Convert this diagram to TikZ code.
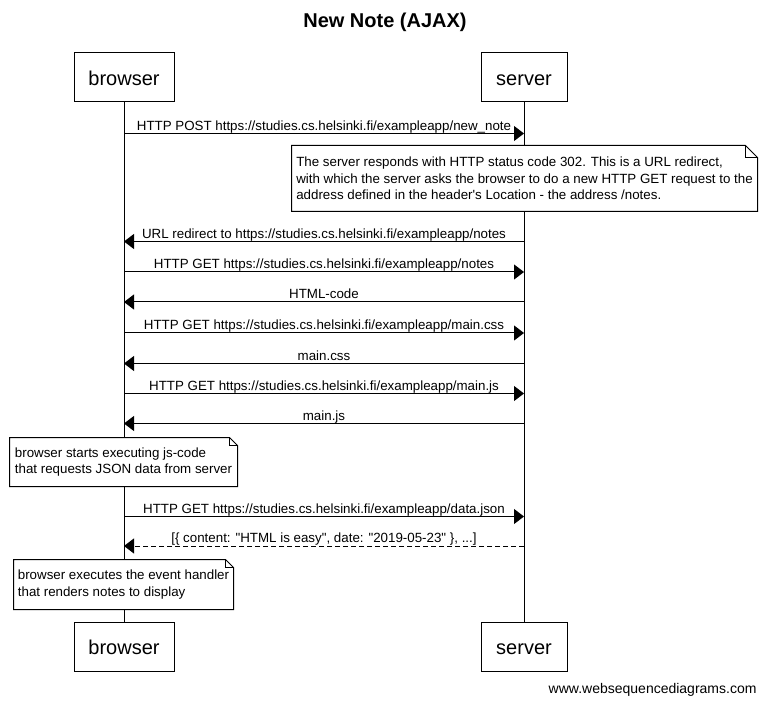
\documentclass[tikz,border=0pt]{standalone}
\usepackage{fontspec}
\setmainfont{Liberation Sans}[Ligatures=TeXOff]
\usetikzlibrary{arrows.meta}
\newcommand\notedeco[2]{%
  \fill[white] ([xshift=-#2]#1.north east) -- (#1.north east) -- ([yshift=-#2]#1.north east) -- cycle;
  \draw (#1.south west) -- (#1.north west) -- ([xshift=-#2]#1.north east) -- ([yshift=-#2]#1.north east) -- (#1.south east) -- cycle;
  \draw ([xshift=-#2]#1.north east) |- ([yshift=-#2]#1.north east);}
\begin{document}
\begin{tikzpicture}[x=0.75pt,y=-0.75pt,line width=0.75pt,
  actor/.style={draw,fill=white,minimum height=36.75pt,inner sep=0pt,text height=13pt,text depth=1pt,font=\fontsize{15}{18}\selectfont},
  msg/.style={-{Triangle[length=7.5pt,width=11.25pt]}},
  reply/.style={msg,dash pattern=on 3.75pt off 2.25pt},
  lbl/.style={anchor=base,yshift=2.6pt,inner sep=0pt,font=\fontsize{10}{12}\selectfont},
  notebox/.style={fill=white,align=left,inner sep=0pt,font=\fontsize{10}{12.4}\selectfont}]
\useasboundingbox (0,0) rectangle (766,705);
\fill[white] (0,0) rectangle (766,705);
\node[font=\bfseries\fontsize{15}{18}\selectfont] (title) at (385,22) {New Note (AJAX)};
\node[actor,minimum width=75pt] (bt) at (124,77.5) {browser};
\node[actor,minimum width=64.5pt] (st) at (524,77.5) {server};
\node[actor,minimum width=75pt] (bb) at (124,646.5) {browser};
\node[actor,minimum width=64.5pt] (sb) at (524,646.5) {server};
\draw (bt) -- (bb);
\draw (st) -- (sb);
% messages
\coordinate (b1) at (124,133.5); \coordinate (s1) at (524,133.5);
\draw[msg] (b1) -- node[lbl] {HTTP POST https://studies.cs.helsinki.fi/exampleapp/new\_note} (s1);
\node[notebox,minimum width=348.75pt,minimum height=48.75pt] (n1) at (524.5,178.5)
 {The server responds with HTTP status code 302. This is a URL redirect,\\with which the server asks the browser to do a new HTTP GET request to the\\address defined in the header's Location - the address /notes.};
\notedeco{n1}{9pt}
\coordinate (b2) at (124,241.5); \coordinate (s2) at (524,241.5);
\draw[msg] (s2) -- node[lbl] {URL redirect to https://studies.cs.helsinki.fi/exampleapp/notes} (b2);
\coordinate (b3) at (124,272); \coordinate (s3) at (524,272);
\draw[msg] (b3) -- node[lbl] {HTTP GET https://studies.cs.helsinki.fi/exampleapp/notes} (s3);
\coordinate (b4) at (124,302); \coordinate (s4) at (524,302);
\draw[msg] (s4) -- node[lbl] {HTML-code} (b4);
\coordinate (b5) at (124,333); \coordinate (s5) at (524,333);
\draw[msg] (b5) -- node[lbl] {HTTP GET https://studies.cs.helsinki.fi/exampleapp/main.css} (s5);
\coordinate (b6) at (124,363.5); \coordinate (s6) at (524,363.5);
\draw[msg] (s6) -- node[lbl] {main.css} (b6);
\coordinate (b7) at (124,393.5); \coordinate (s7) at (524,393.5);
\draw[msg] (b7) -- node[lbl] {HTTP GET https://studies.cs.helsinki.fi/exampleapp/main.js} (s7);
\coordinate (b8) at (124,423.5); \coordinate (s8) at (524,423.5);
\draw[msg] (s8) -- node[lbl] {main.js} (b8);
\node[notebox,minimum width=170.25pt,minimum height=36pt] (n2) at (123.5,462)
 {browser starts executing js-code\\that requests JSON data from server};
\notedeco{n2}{6pt}
\coordinate (b9) at (124,516.5); \coordinate (s9) at (524,516.5);
\draw[msg] (b9) -- node[lbl] {HTTP GET https://studies.cs.helsinki.fi/exampleapp/data.json} (s9);
\coordinate (b10) at (124,546); \coordinate (s10) at (524,546);
\draw[reply] (s10) -- node[lbl] {[\{ content: "HTML is easy", date: "2019-05-23" \}, ...]} (b10);
\node[notebox,minimum width=164.25pt,minimum height=36.75pt] (n3) at (123.5,584.5)
 {browser executes the event handler\\that renders notes to display};
\notedeco{n3}{6pt}
\node[anchor=east,inner sep=0pt,font=\fontsize{10.5}{12}\selectfont] (wm) at (757,690) {www.websequencediagrams.com};
\end{tikzpicture}
\end{document}
